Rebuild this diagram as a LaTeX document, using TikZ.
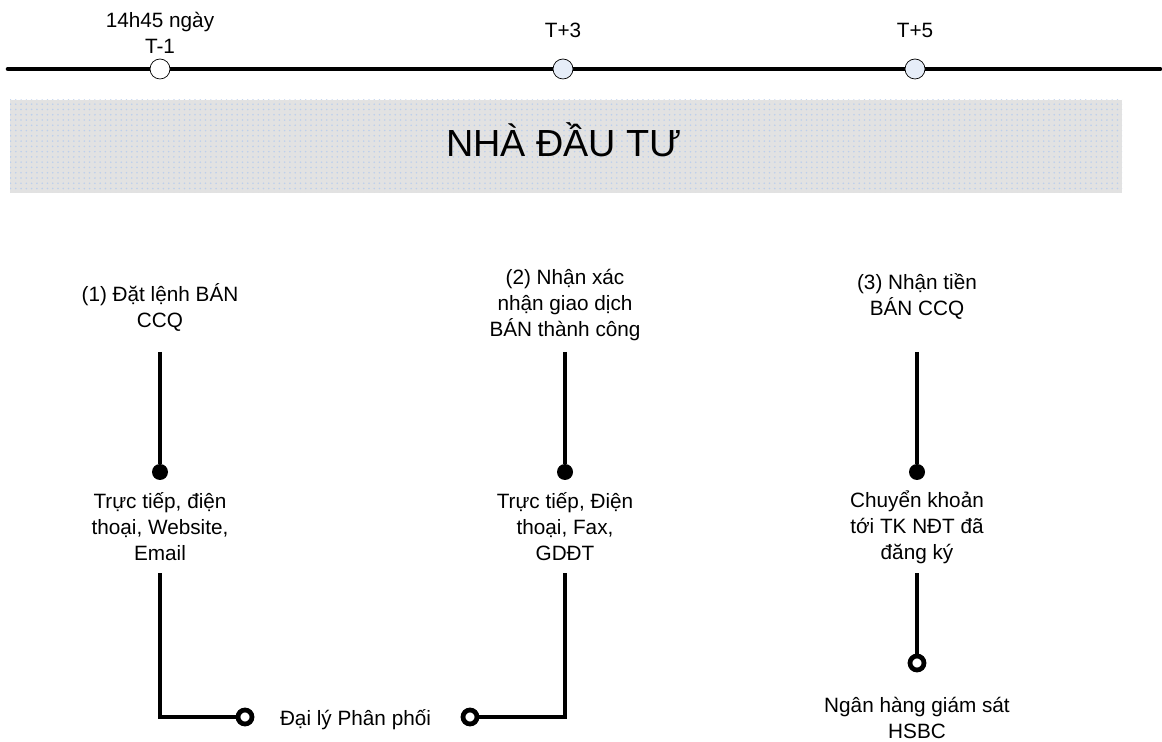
\documentclass[tikz,border=0pt]{standalone}
\usepackage{fontspec}
\setmainfont{Liberation Sans}
\usetikzlibrary{positioning, patterns}
\definecolor{ndtgray}{HTML}{E2E2E2}
\definecolor{ndtdot}{HTML}{BCCFEC}
\definecolor{ndtblue}{HTML}{E6EDF8}

\begin{document}
\begin{tikzpicture}[x=0.02cm, y=-0.02cm,
          lb/.style={font=\fontsize{11.8}{14.8}\selectfont, align=center, inner sep=0pt},
          tk/.style={circle, draw, thin, inner sep=0pt, minimum size=0.4cm},
          dt/.style={circle, fill, inner sep=0pt, minimum size=0.32cm},
          rg/.style={circle, draw, fill=white, line width=2.7pt, inner sep=0pt, minimum size=0.28cm},
          ln/.style={line width=2.6pt}]
        \useasboundingbox (0,0) rectangle (1162,742);
        % time line
        \coordinate (l) at (8,69);
        \coordinate (r) at (1160,69);
        \draw[ln, line cap=round] (l)--(r);
        \node[tk, fill=white] (t1) at (160,69) {};
        \node[tk, fill=ndtblue] (t2) at (563,69) {};
        \node[tk, fill=ndtblue] (t3) at (915,69) {};
        \node[lb] (n1) at (160,33) {14h45 ngày\\T-1};
        \node[lb, anchor=base] (n2) at (563,38) {T+3};
        \node[lb, anchor=base] (n3) at (915,38) {T+5};
        % investor banner
        \path[fill=ndtgray, postaction={pattern=dots, pattern color=ndtdot}] (10,100) rectangle (1122,193);
        \node[font=\fontsize{21.5}{25}\selectfont, inner sep=0pt, anchor=base] (ndt) at (564,157) {NHÀ ĐẦU TƯ};
        % steps
        \node[lb] (q1) at (160,307) {(1) Đặt lệnh BÁN\\CCQ};
        \node[lb] (q2) at (565,305.5) {(2) Nhận xác\\nhận giao dịch\\BÁN thành công};
        \node[lb] (q3) at (917,296) {(3) Nhận tiền\\BÁN CCQ};
        \node[dt] (p1) at (160,472) {};
        \node[dt] (p2) at (565,472) {};
        \node[dt] (p3) at (917,472) {};
        \coordinate (s1) at (160,352);
        \coordinate (s2) at (565,352);
        \coordinate (s3) at (917,352);
        \draw[ln] (s1)--(p1);
        \draw[ln] (s2)--(p2);
        \draw[ln] (s3)--(p3);
        \node[lb] (k1) at (160,527) {Trực tiếp, điện\\thoại, Website,\\Email};
        \node[lb] (k2) at (565,527) {Trực tiếp, Điện\\thoại, Fax,\\GDĐT};
        \node[lb] (k3) at (917,527) {Chuyển khoản\\tới TK NĐT đã\\đăng ký};
        % channels
        \coordinate (u1) at (160,573);
        \coordinate (u2) at (565,573);
        \coordinate (u3) at (917,573);
        \node[rg] (r1) at (245,717) {};
        \node[rg] (r2) at (470,717) {};
        \node[rg] (r3) at (917,663) {};
        \draw[ln] (u1) |- (r1);
        \draw[ln] (u2) |- (r2);
        \draw[ln] (u3)--(r3);
        \node[lb] (dl) at (355.5,720) {Đại lý Phân phối};
        \node[lb] (nh) at (917,718) {Ngân hàng giám sát\\HSBC};
      \end{tikzpicture}
\end{document}
